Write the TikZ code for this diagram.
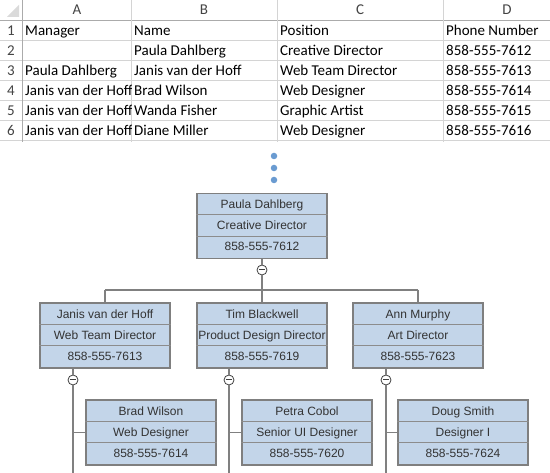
\documentclass[tikz,border=0pt]{standalone}
\usepackage{fontspec}
\setmainfont{Liberation Sans}
\newfontfamily\calibri{Carlito}
\usetikzlibrary{calc}
\definecolor{gridc}{HTML}{D4D4D4}
\definecolor{hdrline}{HTML}{ABABAB}
\definecolor{hdrtxt}{HTML}{444444}
\definecolor{cornerc}{HTML}{DADADA}
\definecolor{boxfill}{HTML}{C3D5E9}
\definecolor{boxborder}{HTML}{7F7F7F}
\definecolor{divc}{HTML}{8C8C8C}
\definecolor{orgtext}{HTML}{333333}
\definecolor{connc}{HTML}{808080}
\definecolor{dotc}{HTML}{6A9BD1}
\newcommand\OrgBox[6]{%
  \node[orgbox] (#1) at (#2,#3) {};
  \draw[divider] ($(#1.north west)+(0,21.7)$) -- ($(#1.north east)+(0,21.7)$);
  \draw[divider] ($(#1.north west)+(0,43.3)$) -- ($(#1.north east)+(0,43.3)$);
  \node[orgtxt] (#1-a) at ($(#1.north)+(0,15.8)$) {#4};
  \node[orgtxt] (#1-b) at ($(#1.north)+(0,36.9)$) {#5};
  \node[orgtxt] (#1-c) at ($(#1.north)+(0,58.0)$) {#6};
}
\begin{document}
\begin{tikzpicture}[x=1pt,y=-1pt,
  gridline/.style={draw=gridc, line width=0.8pt},
  cell/.style={font=\calibri\fontsize{15}{17}\selectfont, anchor=base west, inner sep=0pt, text=black},
  hdr/.style={font=\calibri\fontsize{15}{17}\selectfont, anchor=base, inner sep=0pt, text=hdrtxt},
  orgbox/.style={draw=boxborder, line width=1.3pt, fill=boxfill, minimum width=130pt, minimum height=65pt, inner sep=0pt},
  divider/.style={draw=divc, line width=0.9pt},
  orgtxt/.style={font=\fontsize{12}{14}\selectfont, text=orgtext, anchor=base, inner sep=0pt},
  conn/.style={draw=connc, line width=1.2pt},
  toggle/.style={circle, draw=black!75, line width=0.8pt, fill=white, minimum size=10pt, inner sep=0pt,
    path picture={\draw[line width=1pt] ([xshift=-2.6pt]path picture bounding box.center) -- ([xshift=2.6pt]path picture bounding box.center);}},
  bluedot/.style={circle, fill=dotc, minimum size=6.5pt, inner sep=0pt}]
\useasboundingbox (0,0) rectangle (550,473);
\fill[white] (0,0) rectangle (550,473);
% ---------- spreadsheet ----------
\foreach \yy in {40.5,60.5,80.5,100.5,120.5,140.5}
  \draw[gridline] (0,\yy) -- (550,\yy);
\draw[draw=hdrline, line width=0.8pt] (0,20.5) -- (550,20.5);
\foreach \xx in {131.5,277.5,443.5}
  \draw[gridline] (\xx,0) -- (\xx,142);
\draw[draw=hdrline, line width=0.8pt] (22,0) -- (22,142);
\fill[cornerc] (7,17) -- (19,17) -- (19,5) -- cycle;
\node[hdr] (hA) at (77,15) {A};
\node[hdr] (hB) at (204,15) {B};
\node[hdr] (hC) at (360,15) {C};
\node[hdr] (hD) at (507,15) {D};
\foreach \r in {1,...,6}
  \node[hdr] (rn\r) at (11,{16+20*\r}) {\r};
\begin{scope}
  \clip (22,20) rectangle (131,142);
  \node[cell] (a3) at (25,76) {Paula Dahlberg};
  \node[cell] (a4) at (25,96) {Janis van der Hoff};
  \node[cell] (a5) at (25,116) {Janis van der Hoff};
  \node[cell] (a6) at (25,136) {Janis van der Hoff};
\end{scope}
\node[cell] (a1) at (25,36) {Manager};
\node[cell] (b1) at (134,36) {Name};
\node[cell] (b2) at (134,56) {Paula Dahlberg};
\node[cell] (b3) at (134,76) {Janis van der Hoff};
\node[cell] (b4) at (134,96) {Brad Wilson};
\node[cell] (b5) at (134,116) {Wanda Fisher};
\node[cell] (b6) at (134,136) {Diane Miller};
\node[cell] (c1) at (280,36) {Position};
\node[cell] (c2) at (280,56) {Creative Director};
\node[cell] (c3) at (280,76) {Web Team Director};
\node[cell] (c4) at (280,96) {Web Designer};
\node[cell] (c5) at (280,116) {Graphic Artist};
\node[cell] (c6) at (280,136) {Web Designer};
\node[cell] (d1) at (446,36) {Phone Number};
\node[cell] (d2) at (446,56) {858-555-7612};
\node[cell] (d3) at (446,76) {858-555-7613};
\node[cell] (d4) at (446,96) {858-555-7614};
\node[cell] (d5) at (446,116) {858-555-7615};
\node[cell] (d6) at (446,136) {858-555-7616};
% ---------- dots ----------
\node[bluedot] (dot1) at (274,156) {};
\node[bluedot] (dot2) at (274,168) {};
\node[bluedot] (dot3) at (274,180) {};
% ---------- org chart ----------
\OrgBox{P}{262}{226}{Paula Dahlberg}{Creative Director}{858-555-7612}
\OrgBox{J}{105}{335.5}{Janis van der Hoff}{Web Team Director}{858-555-7613}
\OrgBox{T}{262}{335.5}{Tim Blackwell}{Product Design Director}{858-555-7619}
\OrgBox{A}{418}{335.5}{Ann Murphy}{Art Director}{858-555-7623}
\OrgBox{B}{151}{432.5}{Brad Wilson}{Web Designer}{858-555-7614}
\OrgBox{S}{307}{432.5}{Petra Cobol}{Senior UI Designer}{858-555-7620}
\OrgBox{D}{463}{432.5}{Doug Smith}{Designer I}{858-555-7624}
% toggles
\node[toggle] (tP) at (262,270) {};
\node[toggle] (tJ) at (73,380) {};
\node[toggle] (tT) at (229,380) {};
\node[toggle] (tA) at (386,380) {};
% bus
\coordinate (busL) at (105,290);
\coordinate (busM) at (262,290);
\coordinate (busR) at (418,290);
\draw[conn] (P.south) -- (tP.north);
\draw[conn] (tP.south) -- (busM);
\draw[conn] (busL) -- (busR);
\draw[conn] (busL) -- (J.north);
\draw[conn] (busM) -- (T.north);
\draw[conn] (busR) -- (A.north);
% child branches
\coordinate (eJ) at (73,473);
\coordinate (eT) at (229,473);
\coordinate (eA) at (386,473);
\draw[conn] (tJ.north |- J.south) -- (tJ.north);
\draw[conn] (tT.north |- T.south) -- (tT.north);
\draw[conn] (tA.north |- A.south) -- (tA.north);
\draw[conn] (tJ.south) -- (eJ);
\draw[conn] (tT.south) -- (eT);
\draw[conn] (tA.south) -- (eA);
\draw[conn] (tJ |- B.west) -- (B.west);
\draw[conn] (tT |- S.west) -- (S.west);
\draw[conn] (tA |- D.west) -- (D.west);
\end{tikzpicture}
\end{document}
